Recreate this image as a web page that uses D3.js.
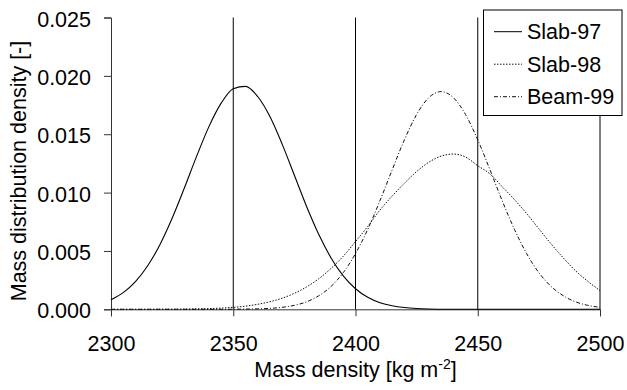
<!DOCTYPE html>
<html>
<head>
<meta charset="utf-8">
<script src="https://cdn.jsdelivr.net/npm/d3@7/dist/d3.min.js"></script>
<style>
  html, body { margin: 0; padding: 0; background: #fff; }
  svg { display: block; font-family: "Liberation Sans", Arial, sans-serif; }
</style>
</head>
<body>
<svg id="chart" width="627" height="390"></svg>
<script>
const massDensity = [2300,2305,2310,2315,2320,2325,2330,2335,2340,2345,2350,2355,2360,2365,2370,2375,2380,2385,2390,2395,2400,2405,2410,2415,2420,2425,2430,2435,2440,2445,2450,2455,2460,2465,2470,2475,2480,2485,2490,2495,2500];
const slab97 = [0.00082,0.00143,0.00237,0.00373,0.00554,0.00780,0.01039,0.01310,0.01563,0.01764,0.01890,0.01910,0.01823,0.01651,0.01415,0.01148,0.00881,0.00640,0.00440,0.00286,0.00176,0.00103,0.00057,0.00030,0.00015,0.00007,0.00003,0.00001,0,0,0,0,0,0,0,0,0,0,0,0,0];
const slab98 = [0,0,0,0,0.00001,0.00001,0.00002,0.00004,0.00006,0.00010,0.00017,0.00027,0.00043,0.00065,0.00095,0.00137,0.00192,0.00262,0.00350,0.00455,0.00580,0.00710,0.00850,0.00970,0.01080,0.01180,0.01260,0.01312,0.01330,0.01305,0.01230,0.01160,0.01050,0.00940,0.00820,0.00690,0.00560,0.00440,0.00330,0.00240,0.00160];
const beam99 = [0,0,0,0,0,0,0,0,0,0,0.00001,0.00002,0.00004,0.00008,0.00017,0.00034,0.00064,0.00116,0.00196,0.00314,0.00477,0.00685,0.00930,0.01195,0.01452,0.01669,0.01814,0.01865,0.01814,0.01669,0.01452,0.01195,0.00930,0.00685,0.00477,0.00314,0.00196,0.00116,0.00064,0.00034,0.00017];
const seriesNames = ["Slab-97","Slab-98","Beam-99"];
const xTicks = [2300,2350,2400,2450,2500];
const yTicks = [0,0.005,0.010,0.015,0.020,0.025];

const svg = d3.select("#chart");
const x = d3.scaleLinear().domain([2300,2500]).range([111,600]);
const y = d3.scaleLinear().domain([0,0.025]).range([309.3,17.5]);
const fs = 21.5;

// vertical gridlines
svg.append("g").selectAll("line").data(xTicks.slice(1)).join("line")
  .attr("x1", d => x(d)).attr("x2", d => x(d))
  .attr("y1", y(0)).attr("y2", y(0.025))
  .attr("stroke", "#000").attr("stroke-width", 1);

// axes
const xAxis = svg.append("g").attr("transform", `translate(0,${y(0)})`)
  .call(d3.axisBottom(x).tickValues(xTicks).tickSize(7).tickPadding(19).tickFormat(d3.format("d")));
const yAxis = svg.append("g").attr("transform", `translate(${x(2300)},0)`)
  .call(d3.axisLeft(y).tickValues(yTicks).tickSize(7).tickPadding(13).tickFormat(d3.format(".3f")));
[xAxis, yAxis].forEach(g => {
  g.select(".domain").attr("stroke", "#333");
  g.selectAll(".tick line").attr("stroke", "#333");
  g.selectAll("text").attr("font-size", fs).attr("font-family", "Liberation Sans, Arial, sans-serif").attr("fill", "#000");
});
yAxis.selectAll("text").attr("dy", "0.4em");
xAxis.selectAll("text").attr("dy", "0.71em");

// series
const styles = [
  {data: slab97, dash: null, color: "#000", w: 1.1},
  {data: slab98, dash: "1.5,1.5", color: "#111", w: 1},
  {data: beam99, dash: "4,2,1,2", color: "#111", w: 1}
];
const line = d3.line().x((d,i) => x(massDensity[i])).y(d => y(d)).curve(d3.curveMonotoneX);
styles.forEach(s => {
  svg.append("path").datum(s.data)
    .attr("d", line).attr("fill", "none")
    .attr("stroke", s.color).attr("stroke-width", s.w)
    .attr("stroke-dasharray", s.dash);
});

// axis titles
const xt = svg.append("text").attr("x", (x(2300)+x(2500))/2).attr("y", 376.5)
  .attr("text-anchor", "middle").attr("font-size", fs).attr("fill", "#000");
xt.append("tspan").text("Mass density [kg m");
xt.append("tspan").attr("font-size", 14).attr("dy", -8).text("-2");
xt.append("tspan").attr("dy", 8).text("]");

svg.append("text").attr("transform", `translate(25.5,171) rotate(-90)`)
  .attr("text-anchor", "middle").attr("font-size", fs).attr("fill", "#000")
  .text("Mass distribution density [-]");

// legend
const lg = svg.append("g");
lg.append("rect").attr("x", 483.5).attr("y", 10).attr("width", 138.5).attr("height", 105.5)
  .attr("fill", "#fff").attr("stroke", "#000").attr("stroke-width", 1);
seriesNames.forEach((name, i) => {
  const cy = 31.7 + i * 32.5;
  lg.append("line").attr("x1", 494).attr("x2", 522).attr("y1", cy).attr("y2", cy)
    .attr("stroke", styles[i].color).attr("stroke-width", 1)
    .attr("stroke-dasharray", styles[i].dash);
  lg.append("text").attr("x", 527).attr("y", cy + 7.5).attr("font-size", fs).attr("fill", "#000").text(name);
});
</script>
</body>
</html>
